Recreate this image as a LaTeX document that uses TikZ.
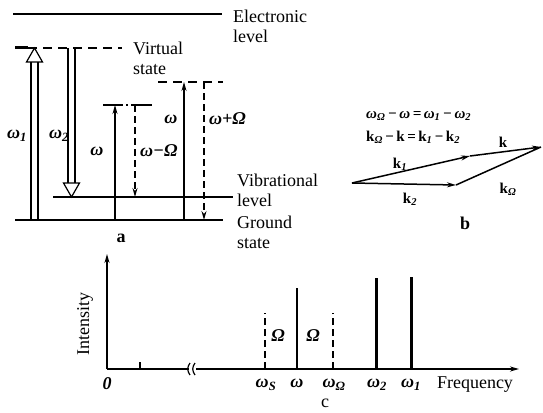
\documentclass[tikz,border=0pt]{standalone}
\usepackage{fontspec}
\setmainfont{Liberation Serif}
\usetikzlibrary{arrows.meta}
\newcommand\sbs[1]{\textsubscript{#1}}
\begin{document}
\begin{tikzpicture}[x=1pt,y=-1pt,
  txt/.style={font=\fontsize{18}{20}\selectfont, inner sep=0pt, align=left},
  gl/.style={font=\fontsize{18}{20}\selectfont\bfseries\itshape, inner sep=0pt},
  frm/.style={font=\fontsize{15}{21}\selectfont\bfseries\itshape, inner sep=0pt, align=left},
  lev/.style={line width=2pt},
  thin arr/.style={line width=1.2pt},
  dsh/.style={line width=1.2pt, dash pattern=on 7pt off 4pt},
  tip/.style={-{Stealth[length=9pt,width=5pt]}},
  axis/.style={line width=1.6pt},
  peak/.style={line width=2pt},
  bigpeak/.style={line width=3pt},
]
\useasboundingbox (0,0) rectangle (543,412);
%% ---------------- part a ----------------
\coordinate (e1) at (13,14);  \coordinate (e2) at (222,14);
\draw[line width=2.6pt] (e1) -- (e2);
\node[txt, anchor=west] (elec) at (233,26) {Electronic\\level};
\coordinate (v1) at (15,48); \coordinate (v2) at (122,48);
\draw[line width=3pt] (15,48) -- (28,48);
\draw[line width=1.4pt, dash pattern=on 9pt off 6pt] (28,48) -- (v2);
\node[txt, anchor=west] (virt) at (133,58) {Virtual\\state};
\coordinate (vib1) at (53,197); \coordinate (vib2) at (233,197);
\draw[lev] (vib1) -- (vib2);
\node[txt, anchor=west] (vib) at (237,190) {Vibrational\\level};
\coordinate (g1) at (15,220); \coordinate (g2) at (223,220);
\draw[lev] (g1) -- (g2);
\node[txt, anchor=west] (gnd) at (237,232) {Ground\\state};
\coordinate (u1) at (158,82); \coordinate (u2) at (223,82);
\draw[line width=1.2pt, dash pattern=on 9pt off 6pt] (u1) -- (u2);
\coordinate (l1) at (103,105); \coordinate (l2) at (152,105);
\draw[line width=1.2pt, dash pattern=on 20pt off 3pt on 2pt off 3pt on 30pt] (l1) -- (l2);
% omega_1 open double arrow (up)
\draw[line width=1.1pt] (31,220) -- (31,62) (38,220) -- (38,62);
\draw[line width=1.2pt, fill=white] (26.5,62) -- (34.5,48) -- (42.5,62) -- cycle;
\node[gl] (w1) at (17,136) {ω\sbs{1}};
% omega_2 open double arrow (down)
\draw[line width=1.1pt] (68,48) -- (68,183) (75,48) -- (75,183);
\draw[line width=1.2pt, fill=white] (63.5,183) -- (71.5,197) -- (79.5,183) -- cycle;
\node[gl] (w2) at (59,136) {ω\sbs{2}};
% omega up, omega - Omega down
\coordinate (a1b) at (115,220); \coordinate (a1t) at (115,105);
\draw[thin arr, tip] (a1b) -- (a1t);
\node[gl] (wa) at (97,151) {ω};
\coordinate (d1t) at (135,105); \coordinate (d1b) at (135,197);
\draw[dsh, tip] (d1t) -- (d1b);
\node[gl, anchor=west] (wmO) at (140,151) {ω−Ω};
% omega up, omega + Omega down
\coordinate (a2b) at (184,220); \coordinate (a2t) at (184,82);
\draw[thin arr, tip] (a2b) -- (a2t);
\node[gl] (wb) at (171,119) {ω};
\coordinate (d2t) at (204,82); \coordinate (d2b) at (204,220);
\draw[dsh, tip] (d2t) -- (d2b);
\node[gl, anchor=west] (wpO) at (209,119) {ω+Ω};
\node[txt, font=\fontsize{18}{20}\selectfont\bfseries] (la) at (121,238) {a};
%% ---------------- part b ----------------
\node[frm, anchor=west] (f1) at (366,116) {ω\sbs{Ω}\,−\,ω\,=\,ω\sbs{1}\,−\,ω\sbs{2}};
\node[frm, anchor=west, font=\fontsize{15}{21}\selectfont\bfseries] (f2) at (366,137) {k\sbs{\itshape Ω}\,−\,k\,=\,k\sbs{\itshape 1}\,−\,k\sbs{\itshape 2}};
\coordinate (A) at (352,183);
\coordinate (B) at (470,156);
\coordinate (C) at (541,147);
\coordinate (D) at (456,185);
\draw[line width=1.5pt, tip] (A) -- (B);
\draw[line width=1.5pt, tip] (B) -- (C);
\draw[line width=1.5pt, tip] (A) -- (D);
\draw[line width=1.5pt] (D) -- (C);
\node[txt, font=\fontsize{15}{18}\selectfont\bfseries] (k1) at (400,164) {k\sbs{\itshape 1}};
\node[txt, font=\fontsize{15}{18}\selectfont\bfseries] (k) at (503,142) {k};
\node[txt, font=\fontsize{15}{18}\selectfont\bfseries] (k2) at (410,199) {k\sbs{\itshape 2}};
\node[txt, font=\fontsize{15}{18}\selectfont\bfseries] (kO) at (508,189) {k\sbs{\itshape Ω}};
\node[txt, font=\fontsize{18}{20}\selectfont\bfseries] (lb) at (465,223) {b};
%% ---------------- part c ----------------
\coordinate (O) at (107,369);
\coordinate (Ytop) at (107,254);
\coordinate (br1) at (189,369);
\coordinate (br2) at (196,369);
\coordinate (Xend) at (519,369);
\draw[axis, tip] (O) -- (Ytop);
\draw[axis] (O) -- (br1);
\draw[axis, tip] (br2) -- (Xend);
\draw[line width=1.2pt] (190,363) .. controls (187,367) and (187,371) .. (190,375);
\draw[line width=1.2pt] (195,363) .. controls (192,367) and (192,371) .. (195,375);
\draw[line width=1.2pt] (140,369) -- (140,362);
\node[txt, rotate=90] (int) at (85,324) {Intensity};
\node[gl] (zero) at (107,384) {0};
\draw[dsh] (265,369) -- (265,313);
\draw[peak] (297,369) -- (297,288);
\draw[dsh] (333,369) -- (333,313);
\draw[bigpeak] (376,369) -- (376,278);
\draw[bigpeak] (411,369) -- (411,277);
\node[gl] (O1) at (278,336) {Ω};
\node[gl] (O2) at (313,336) {Ω};
\node[gl] (ws) at (266,385) {ω\sbs{S}};
\node[gl] (wc) at (297,383) {ω};
\node[gl] (wO) at (334,385) {ω\sbs{Ω}};
\node[gl] (wc2) at (377,385) {ω\sbs{2}};
\node[gl] (wc1) at (411,385) {ω\sbs{1}};
\node[txt] (freq) at (475,385) {Frequency};
\node[txt] (lc) at (325,403) {c};
\end{tikzpicture}
\end{document}
